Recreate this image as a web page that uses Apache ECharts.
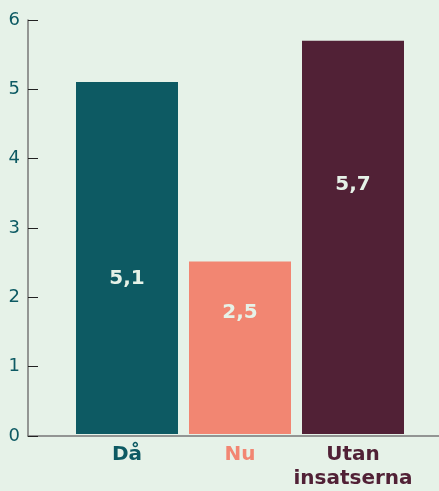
<!DOCTYPE html>
<html><head><meta charset="utf-8">
<script src="https://cdn.jsdelivr.net/npm/echarts@6/dist/echarts.min.js"></script>
<style>html,body{margin:0;padding:0;background:#e6f2e8;}#c{width:439px;height:491px;}</style>
</head><body><div id="c"></div>
<script>
const categories = ['Då', 'Nu', 'Utan\ninsatserna'];
const values = [5.1, 2.5, 5.7];
const yTicks = [0, 1, 2, 3, 4, 5, 6];

const colors = ['#0d5a63', '#f28672', '#512136'];
const labelPos = [['50%', '56%'], ['50%', '29.5%'], ['50%', '36.7%']];
const FONT = 'DejaVu Sans';

const chart = echarts.init(document.getElementById('c'), null, {renderer: 'canvas'});
chart.setOption({
  backgroundColor: '#e6f2e8',
  animation: false,
  grid: [
    {left: 70.5, right: 29.5, top: 20, bottom: 55},
    {left: 28, right: 0, top: 20, bottom: 55}
  ],
  xAxis: [
    {type: 'category', gridIndex: 0, data: categories,
     axisLine: {show: false}, axisTick: {show: false},
     axisLabel: {interval: 0, margin: 9, fontFamily: FONT, fontWeight: 'bold', fontSize: 20, lineHeight: 24,
       formatter: (v, i) => v.split('\n').map(s => '{c' + i + '|' + s + '}').join('\n'),
       rich: {
         c0: {color: colors[0], fontFamily: FONT, fontWeight: 'bold', fontSize: 20, lineHeight: 24},
         c1: {color: colors[1], fontFamily: FONT, fontWeight: 'bold', fontSize: 20, lineHeight: 24},
         c2: {color: colors[2], fontFamily: FONT, fontWeight: 'bold', fontSize: 20, lineHeight: 24}
       }}},
    {type: 'value', gridIndex: 1, min: 0, max: 1,
     axisLine: {show: true, lineStyle: {color: '#777777', width: 1.5}},
     axisTick: {show: false}, axisLabel: {show: false}, splitLine: {show: false}}
  ],
  yAxis: [
    {type: 'value', gridIndex: 0, min: yTicks[0], max: yTicks[yTicks.length - 1], interval: 1, show: false},
    {type: 'value', gridIndex: 1, min: yTicks[0], max: yTicks[yTicks.length - 1], interval: 1,
     axisLine: {show: true, lineStyle: {color: '#777777', width: 1.5}},
     axisTick: {show: true, inside: true, length: 10, lineStyle: {color: '#222222', width: 1}},
     axisLabel: {margin: 8, color: '#0d5a63', fontFamily: FONT, fontSize: 18},
     splitLine: {show: false}}
  ],
  series: [{
    type: 'bar', xAxisIndex: 0, yAxisIndex: 0, barWidth: 102,
    data: values.map((v, i) => ({
      value: v,
      itemStyle: {color: colors[i]},
      label: {show: true, position: labelPos[i], align: 'center', verticalAlign: 'middle',
        formatter: () => String(v).replace('.', ','),
        color: '#e6f2e8', fontFamily: FONT, fontWeight: 'bold', fontSize: 20}
    }))
  }]
});
</script></body></html>
